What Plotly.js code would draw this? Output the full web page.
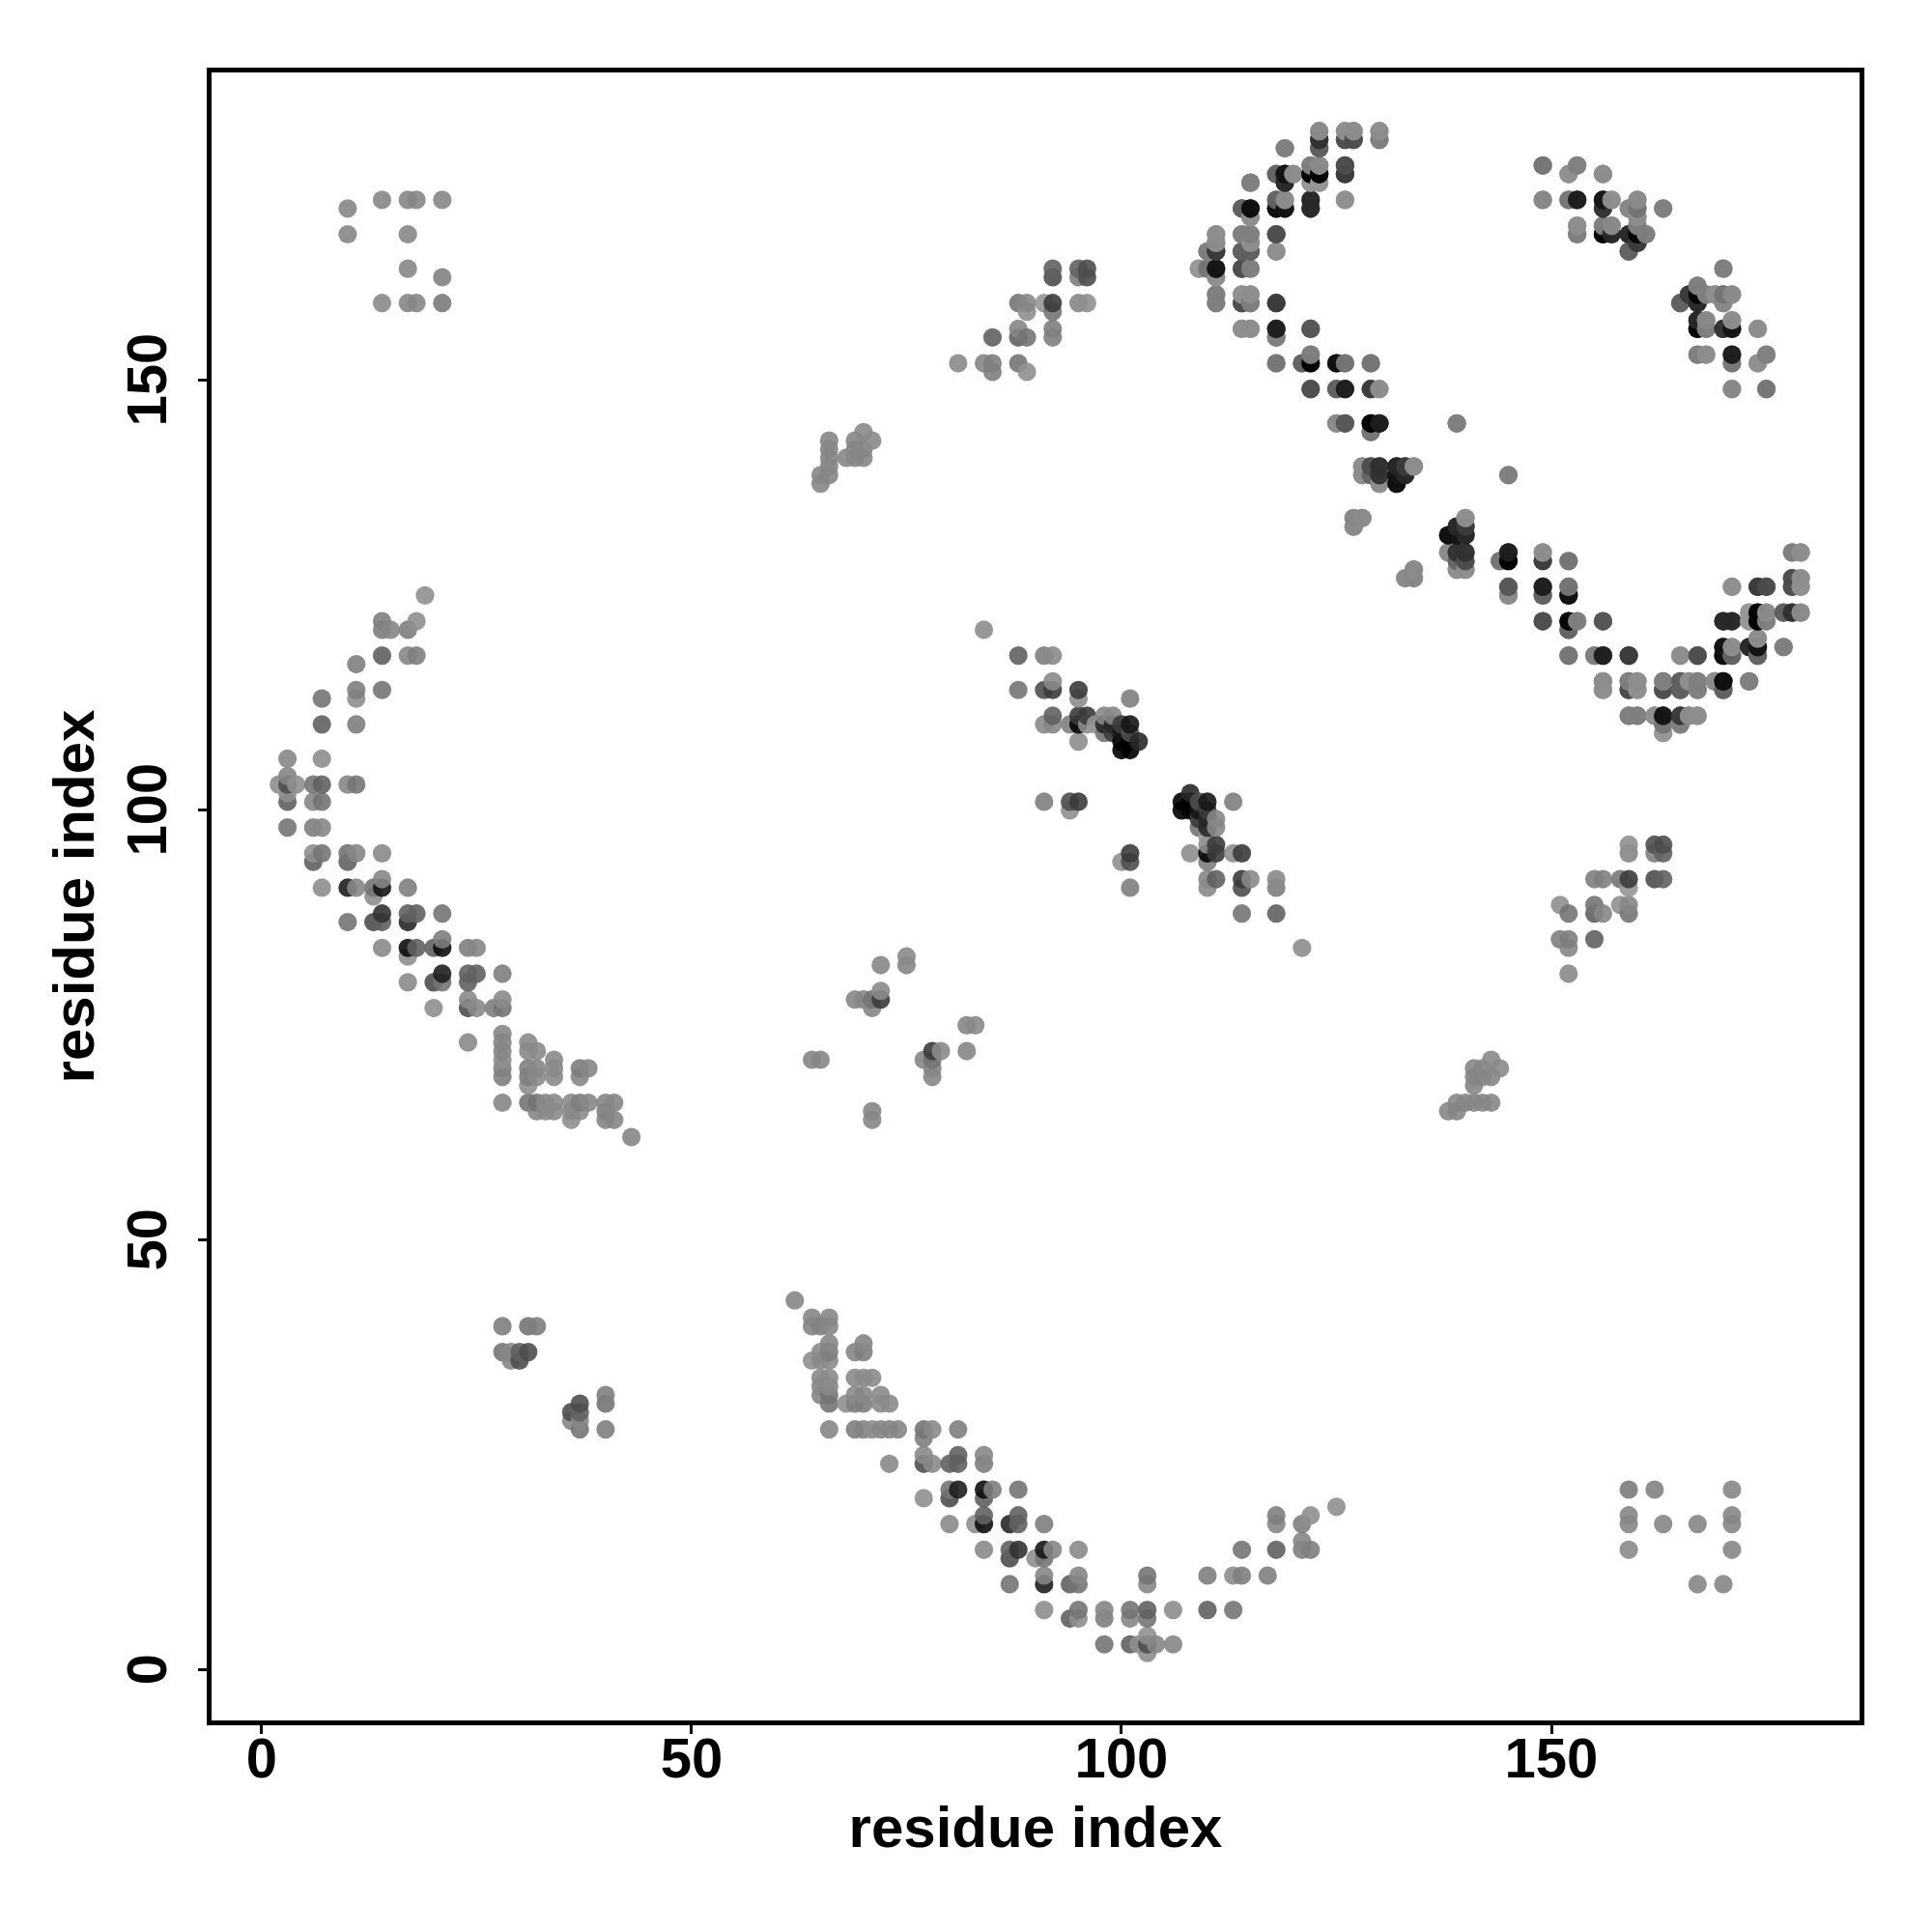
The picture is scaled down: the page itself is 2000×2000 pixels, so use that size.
<!DOCTYPE html>
<html>
<head>
<meta charset="utf-8">
<script src="https://cdn.plot.ly/plotly-3.0.1.min.js"></script>
<style>html,body{margin:0;padding:0;background:#fff}</style>
</head>
<body>
<div id="chart" style="width:2000px;height:2000px"></div>
<script>
// Each contact: [residue i, residue j, score]. The map is symmetric, so each pair is read once.
const contactsN = [[62,43,14],[64,41,14],[66,41,14],[64,40,14],[65,40,18],[66,40,14],[66,38,14],[70,38,14],[65,37,12],[66,37,22],[69,37,14],[70,37,22],[64,36,6],[65,36,12],[66,36,12],[65,34,12],[66,34,12],[69,34,12],[70,34,12],[71,34,12],[65,33,12],[66,33,12],[65,32,14],[66,32,31],[69,32,12],[70,32,14],[72,32,12],[66,31,31],[68,31,6],[69,31,22],[70,31,22],[72,31,12],[73,31,12]];
const contactsO = [[66,28,14],[69,28,22],[70,28,18],[71,28,8],[72,28,14],[73,28,14],[74,28,14],[77,28,31],[78,28,12],[81,28,22],[77,27,22],[77,25,12],[81,25,48],[73,24,12],[77,24,65],[78,24,12],[80,24,48],[81,24,48],[80,21,31],[81,21,108],[77,20,6],[80,20,65],[80,17,12]];
const contactsP = [[84,25,14],[84,24,22],[84,21,122],[85,21,22],[88,21,31],[84,20,48],[84,18,48],[88,18,48],[83,17,6],[84,17,122],[87,17,99],[88,17,48],[91,17,22],[84,14,12],[87,14,48],[88,14,90],[91,14,116],[92,14,14],[95,14,12],[87,13,65],[90,13,6],[91,13,31],[91,11,14],[95,11,14],[87,10,31],[91,10,108],[94,10,48],[95,10,31],[91,7,8],[95,7,31],[98,7,14]];
const contactsQ = [[94,6,48],[95,6,6],[98,6,22],[101,7,31],[101,6,14],[103,11,31],[103,10,14],[103,7,48],[103,6,31],[106,7,8],[98,3,31],[101,3,48],[102,3,6],[103,3,65],[104,3,14],[106,3,14],[103,4,6],[103,2,8],[110,11,22],[110,7,48],[113,11,8],[113,7,31],[114,11,22],[117,11,22],[114,14,31],[118,14,48],[118,18,22],[118,17,14],[121,17,22],[122,18,6],[125,19,6],[121,15,14],[121,14,22],[122,14,22]];
const contactsR = [[121,84,8],[118,88,48],[118,91,22],[118,92,12],[114,88,31],[114,91,65],[114,92,82],[115,92,12],[114,95,82],[113,95,8],[110,91,12],[110,92,14],[111,92,48],[110,94,22],[110,95,133],[111,95,82],[110,96,8],[111,96,82],[110,97,0],[110,98,99],[111,98,14],[109,98,31],[110,99,99],[111,99,14],[109,99,82]];
const contactsS = [[108,100,150],[109,100,116],[107,100,150],[110,100,82],[107,101,150],[108,101,150],[109,101,65],[110,101,116],[113,101,22],[108,102,99],[108,95,8],[101,95,82],[101,94,65],[100,94,6],[101,91,22]];
const contactsT = [[123,179,6],[126,179,8],[127,179,8],[130,179,8],[123,178,99],[126,178,65],[127,178,65],[130,178,22],[119,177,22],[123,177,65],[122,175,22],[123,175,8],[126,175,82],[118,174,31],[119,174,133],[120,174,12],[122,174,150],[123,174,133],[126,174,90],[115,173,22],[119,173,99],[122,173,0],[123,173,0],[118,171,31],[119,171,12],[122,171,99],[126,171,6],[114,170,48],[115,170,122],[118,170,133],[119,170,133],[122,170,99],[115,169,22]];
const contactsU = [[111,167,8],[114,167,22],[115,167,12],[118,167,65],[111,166,14],[115,166,6],[110,165,14],[111,165,90],[114,165,65],[115,165,65],[118,165,0],[109,163,0],[110,163,22],[111,163,116],[114,163,65],[115,163,22],[111,162,12],[111,160,14],[114,160,0],[115,160,8],[111,159,22],[114,159,82],[115,159,31],[118,159,90],[114,156,12],[115,156,12],[118,156,108],[122,156,65],[118,155,31]];
const contactsV = [[122,153,31],[118,152,22],[121,152,31],[122,152,122],[125,152,122],[126,152,36],[129,152,31],[122,149,65],[125,149,48],[126,149,108],[129,149,65],[130,149,8],[125,145,12],[126,145,48],[129,145,150],[130,145,116],[139,145,22],[129,144,31],[128,140,8],[129,140,65],[130,140,99],[132,140,116],[133,140,82],[134,140,12],[128,139,6],[129,139,12],[130,139,82],[132,139,133],[133,139,99],[145,139,22],[130,138,14],[132,138,116]];
const contactsW = [[127,134,8],[128,134,8],[140,134,8],[127,133,6],[139,133,99],[140,133,82],[138,132,122],[139,132,116],[140,132,99],[138,130,8],[139,130,90],[140,130,90],[145,130,108],[149,130,8],[139,129,48],[140,129,65],[144,129,31],[145,129,150],[149,129,82],[152,129,31],[139,128,8],[140,128,8],[134,128,12],[133,127,12],[134,127,14],[145,126,58],[149,126,108],[152,126,31],[145,125,12],[149,125,48],[152,125,122],[149,122,65],[152,122,133],[153,122,22],[152,121,48]];
const contactsX = [[178,130,22],[179,130,8],[178,127,65],[179,127,8],[171,126,6],[174,126,82],[175,126,65],[178,126,65],[179,126,6],[173,123,0],[174,123,133],[175,123,12],[177,123,48],[178,123,90],[179,123,12],[156,122,58],[170,122,99],[171,122,99],[173,122,0],[174,122,133],[175,122,22],[170,119,116],[171,119,8],[173,119,99],[174,119,116],[177,119,22],[174,120,8]];
const contactsY = [[152,118,31],[155,118,22],[156,118,108],[159,118,82],[165,118,8],[167,118,65],[170,118,122],[171,118,48],[174,118,48],[156,115,8],[159,115,22],[160,115,8],[163,115,22],[165,115,48],[166,115,8],[167,115,22],[169,115,8],[170,115,122],[173,115,22],[156,114,6],[159,114,65],[160,114,6],[163,114,65],[165,114,48],[167,114,22],[170,114,48],[159,111,22],[160,111,22],[162,111,6],[163,111,116],[165,111,82],[166,111,8],[167,111,8],[163,110,31],[165,110,22],[163,109,0]];
const contactsZ = [[149,175,31],[153,175,12],[152,174,6],[156,174,8],[149,171,8],[152,171,12],[153,171,108],[156,171,116],[157,171,12],[160,171,12],[156,170,90],[159,170,12],[160,170,31],[163,170,14],[160,169,6],[153,168,8],[156,168,22],[157,168,22],[160,168,14],[153,167,22],[156,167,150],[157,167,99],[159,167,90],[160,167,150],[161,167,22],[160,166,82],[159,165,48]];
const contactsA = [[170,163,22],[167,161,22],[166,160,82],[167,160,133],[168,160,22],[169,160,8],[170,160,31],[171,160,12],[165,159,48],[167,159,99],[170,159,14],[167,157,99],[168,157,12],[171,157,8],[167,156,150],[168,156,22],[170,156,90],[171,156,116],[174,156,8],[167,153,22],[168,153,8],[171,153,108],[175,153,22],[171,152,31],[174,152,6],[171,149,14],[175,149,31]];
const contactsB = [[159,96,6],[162,96,65],[163,96,65],[159,95,14],[162,95,22],[163,95,48],[155,92,22],[156,92,22],[158,92,31],[159,92,82],[162,92,65],[163,92,48],[159,91,0],[151,89,6],[155,89,31],[158,89,6],[159,89,14],[152,88,31],[155,88,48],[156,88,14],[159,88,31],[151,85,22],[152,85,22],[155,85,48],[152,84,14],[152,81,12]];
const contactsC = [[143,71,12],[141,70,14],[142,70,14],[144,70,12],[141,69,14],[142,69,14],[143,69,14],[141,68,14],[143,66,14],[142,66,14],[141,66,14],[140,66,14],[139,66,14],[139,65,14],[138,65,14]];
const contactsD = [[71,64,14],[71,65,14],[78,69,14],[78,70,14],[78,71,31],[77,71,14],[78,72,82],[79,72,12],[82,72,14],[82,75,14],[83,75,12]];
const contactsE = [[37,28,31],[36,29,14],[37,29,14],[36,30,65],[37,30,48],[37,31,65],[40,28,22],[40,31,31],[40,32,22]];
const contactsF = [[170,10,14],[167,10,14],[171,14,14],[171,17,14],[171,18,14],[171,21,14],[167,17,14],[163,17,14],[162,21,18],[159,14,12],[159,17,14],[159,18,14],[159,21,25]];

const tickValues = [0, 50, 100, 150];
const axisLabel = 'residue index';

const pairs = [].concat(contactsN, contactsO, contactsP, contactsQ, contactsR, contactsS, contactsT, contactsU, contactsV, contactsW, contactsX, contactsY, contactsZ, contactsA, contactsB, contactsC, contactsD, contactsE, contactsF);
const both = [];
pairs.forEach(p => { both.push([p[0], p[1], p[2]]); both.push([p[1], p[0], p[2]]); });
both.sort((a, b) => a[0] - b[0] || a[1] - b[1]);

const font = 'Liberation Sans, Arial, Helvetica, sans-serif';
const axisBase = {
  showgrid: false, zeroline: false, showline: true, mirror: true,
  linecolor: '#000', linewidth: 5,
  ticks: 'outside', ticklen: 9, tickwidth: 3, tickcolor: '#000',
  tickmode: 'array', tickvals: tickValues, ticktext: tickValues.map(String),
  tickfont: {family: font, size: 58, color: '#000', weight: 'bold'}
};

Plotly.newPlot('chart', [{
  type: 'scatter', mode: 'markers',
  x: both.map(p => p[0]), y: both.map(p => p[1]),
  marker: {
    size: 19.2, opacity: 0.9, line: {width: 0},
    color: both.map(p => p[2]), cmin: 0, cmax: 150, showscale: false,
    colorscale: [[0, 'rgb(150,150,150)'], [0.9, 'rgb(0,0,0)'], [1, 'rgb(0,0,0)']]
  },
  hoverinfo: 'skip'
}], {
  width: 2000, height: 2000, showlegend: false,
  paper_bgcolor: '#fff', plot_bgcolor: '#fff',
  margin: {l: 218.5, r: 74.5, t: 74.5, b: 218.5, pad: 0},
  xaxis: Object.assign({}, axisBase, {
    range: [-5.83, 185.84], tickangle: 0, ticklabelstandoff: -25,
    title: {text: axisLabel, standoff: 21, font: {family: font, size: 60, color: '#000', weight: 'bold'}}
  }),
  yaxis: Object.assign({}, axisBase, {
    range: [-5.85, 185.82], tickangle: -90, ticklabelstandoff: 10, ticklabelshift: 8,
    title: {text: axisLabel, standoff: 3, font: {family: font, size: 60, color: '#000', weight: 'bold'}}
  })
}, {staticPlot: true});
</script>
</body>
</html>
